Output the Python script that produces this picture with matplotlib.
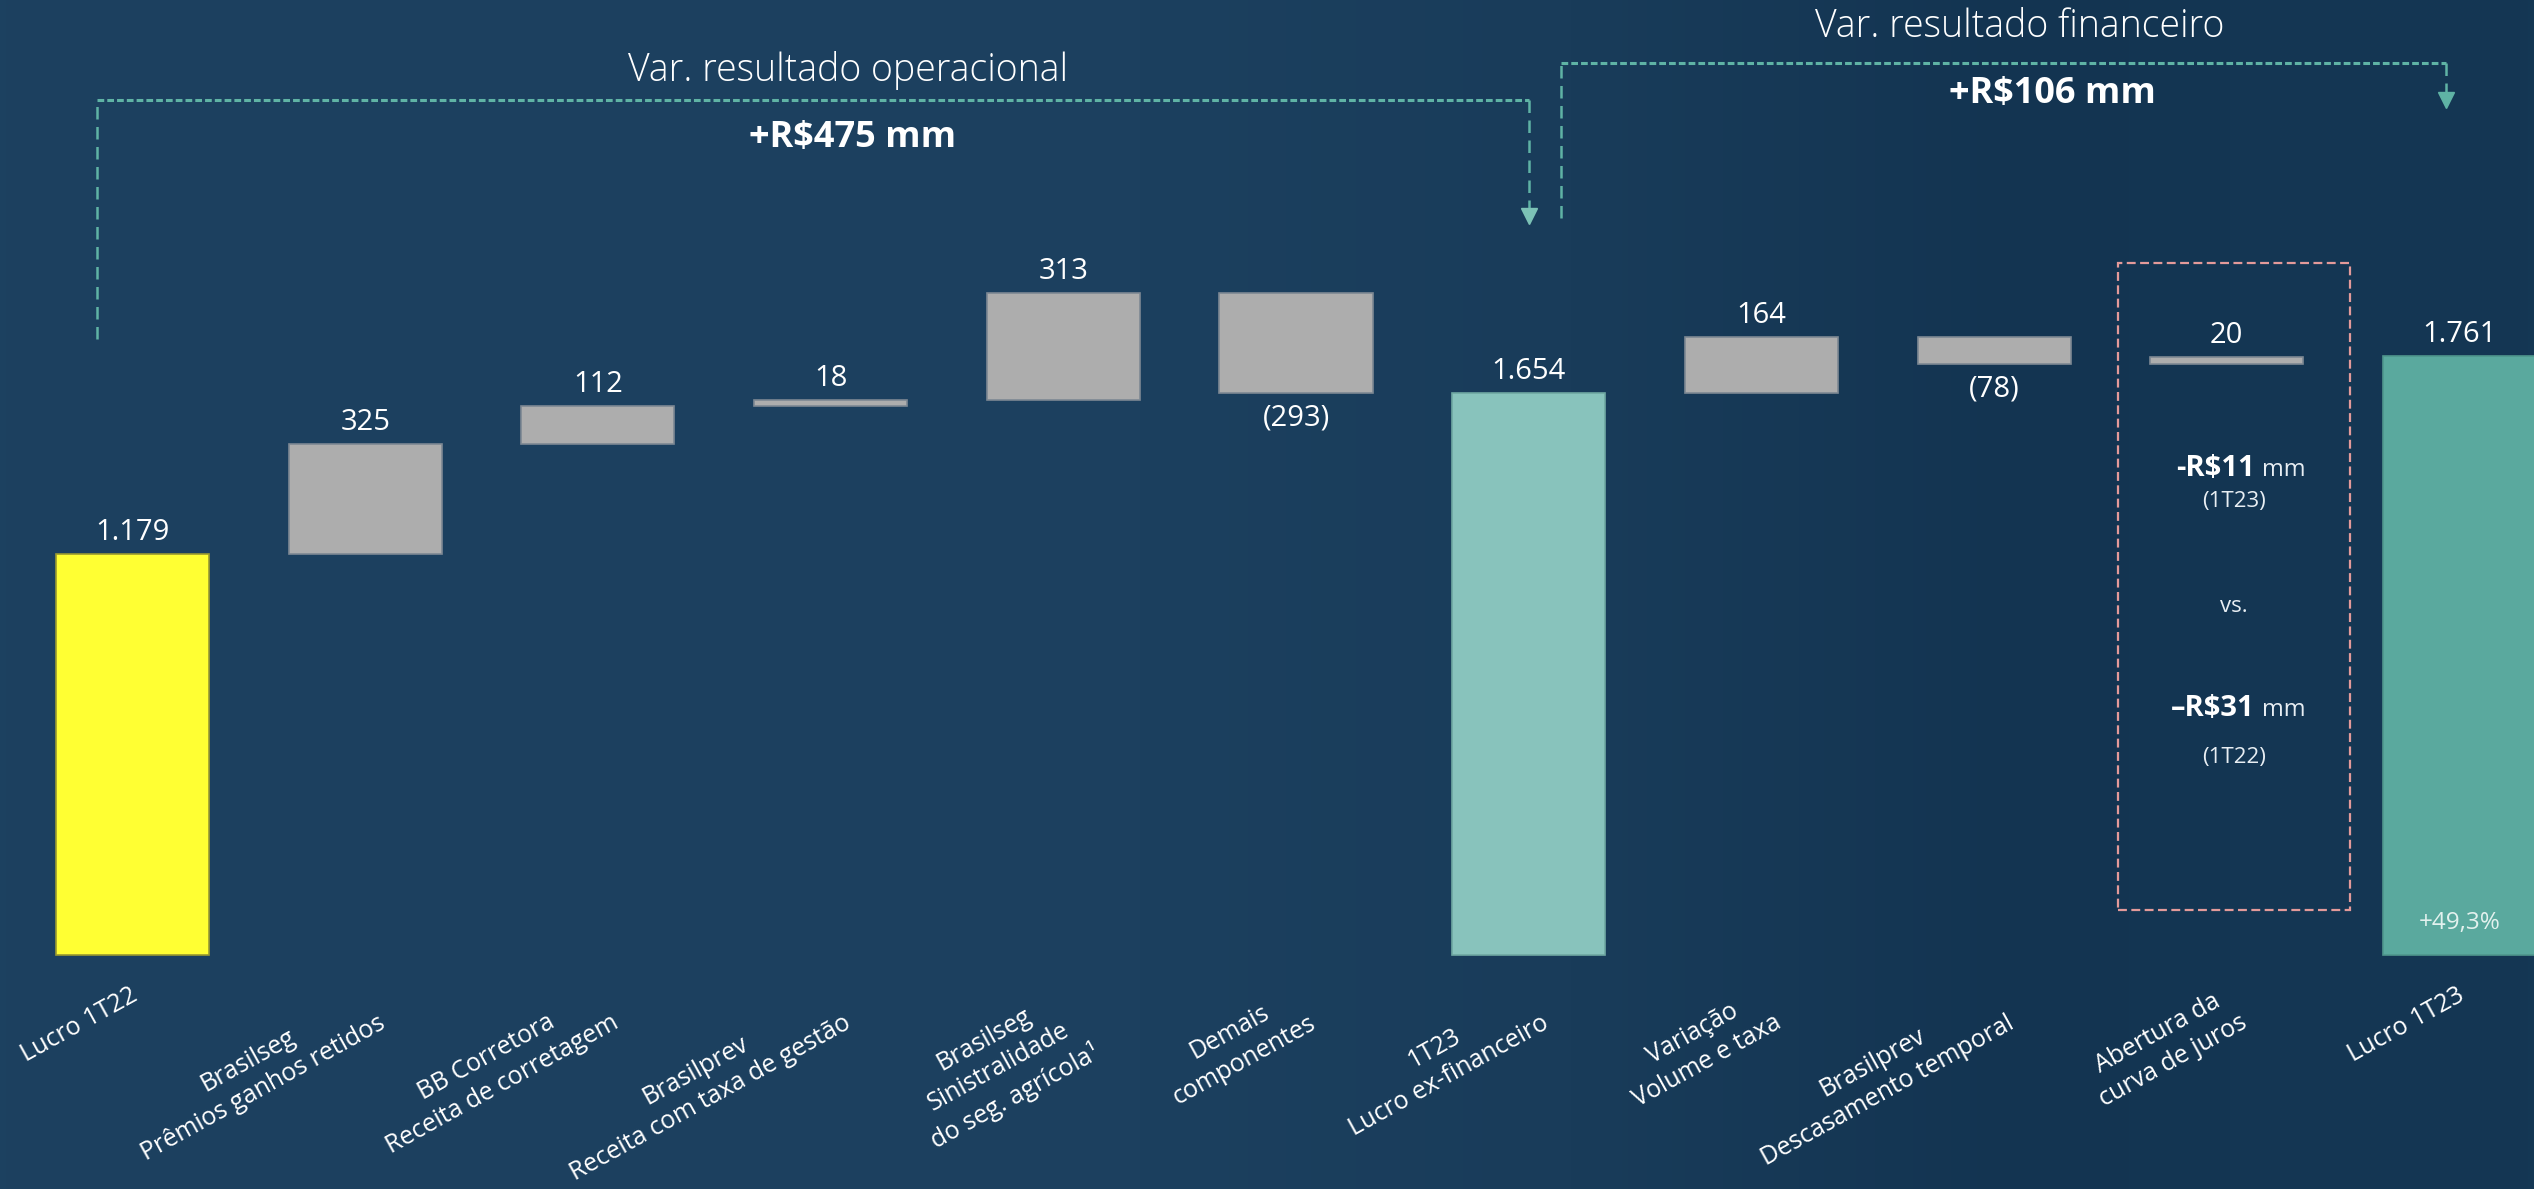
import numpy as np
import matplotlib
matplotlib.use("Agg")
import matplotlib.pyplot as plt
from matplotlib.patches import Rectangle

plt.rcParams['font.family'] = ['Open Sans', 'DejaVu Sans']

# ---------------- data ----------------
categories = ["Lucro 1T22",
              "Brasilseg\nPrêmios ganhos retidos",
              "BB Corretora\nReceita de corretagem",
              "Brasilprev\nReceita com taxa de gestão",
              "Brasilseg\nSinistralidade\ndo seg. agrícola¹",
              "Demais\ncomponentes",
              "1T23\nLucro ex-financeiro",
              "Variação\nVolume e taxa",
              "Brasilprev\nDescasamento temporal",
              "Abertura da\ncurva de juros",
              "Lucro 1T23"]
values = [1179, 325, 112, 18, 313, -293, 1654, 164, -78, 20, 1761]
is_total = [True, False, False, False, False, False, True, False, False, False, True]
bar_colors = ["#ffff33", "#adadad", "#adadad", "#adadad", "#adadad", "#adadad",
              "#88c3bc", "#adadad", "#adadad", "#adadad", "#5aa99e"]
edge_colors = ["#9a9a30", "#7d8893", "#7d8893", "#7d8893", "#7d8893", "#7d8893",
               "#6fa8a2", "#7d8893", "#7d8893", "#7d8893", "#4f968c"]

op_title = "Var. resultado operacional"
op_value = "+R$475 mm"
fin_title = "Var. resultado financeiro"
fin_value = "+R$106 mm"
box_lines = [("-R$11", "mm"), ("(1T23)", None), ("vs.", None), ("–R$31", "mm"), ("(1T22)", None)]
growth_label = "+49,3%"

W, H = 2534, 1189
fig = plt.figure(figsize=(W / 100, H / 100), dpi=100)

# background gradient
bg = fig.add_axes([0, 0, 1, 1], zorder=0)
xs = np.linspace(0, 1, 400)
stops_x = [0.0, 0.45, 0.62, 0.80, 0.88, 1.0]
stops_c = np.array([[28, 65, 96], [28, 64, 95], [25, 60, 90],
                    [19, 52, 81], [20, 54, 83], [20, 55, 84]]) / 255.0
grad = np.stack([np.interp(xs, stops_x, stops_c[:, k]) for k in range(3)], axis=-1)
grad = np.tile(grad[None, :, :], (10, 1, 1))
bg.imshow(grad, aspect='auto', extent=[0, 1, 0, 1])
bg.set_axis_off()

ax = fig.add_axes([0, 0, 1, 1], zorder=1)
ax.patch.set_alpha(0)
ax.set_axis_off()

# scales: bar 0 center at 132.5px, step 232.7px; baseline 955px from top, 0.3399 px/unit
step = 232.7
x0 = 132.5
ppu = 0.3399
base = 955
ax.set_xlim(-x0 / step, (W - x0) / step)
ax.set_ylim(-(H - base) / ppu, base / ppu)


def ypx(ytop):
    return (base - ytop) / ppu


def fmt_total(v):
    return f"{v:,}".replace(",", ".")


# ---------------- bars ----------------
width = 0.658
running = 0
for i, (v, tot) in enumerate(zip(values, is_total)):
    if tot:
        bottom, height = 0, v
        running = v
    else:
        bottom = running if v >= 0 else running + v
        height = abs(v)
        running += v
    ax.bar(i, height, bottom=bottom, width=width, color=bar_colors[i],
           edgecolor=edge_colors[i], linewidth=1.2, zorder=3)
    top = bottom + height
    if tot:
        ax.annotate(fmt_total(v), (i, top), xytext=(0, 5), textcoords='offset points',
                    ha='center', va='bottom', color='white', fontsize=21, zorder=5)
    elif v >= 0:
        ax.annotate(f"{v}", (i, top), xytext=(0, 5), textcoords='offset points',
                    ha='center', va='bottom', color='white', fontsize=21, zorder=5)
    else:
        ax.annotate(f"({-v})", (i, bottom), xytext=(0, -8), textcoords='offset points',
                    ha='center', va='top', color='white', fontsize=21, zorder=5)
    # category label
    ax.annotate(categories[i], (i, 0), xytext=(-2, -20), textcoords='offset points',
                rotation=29, rotation_mode='anchor', ha='right', va='top',
                multialignment='center', color='white', fontsize=18,
                linespacing=1.35, zorder=5)

# growth label in last bar
ax.text(10, ypx(923), growth_label, ha='center', va='center', color='#e3f1ee',
        fontsize=17.5, zorder=6)

# ---------------- brackets ----------------
dash_col = "#5fb3a5"
# operational bracket: from bar 0 to bar 6
oxl, oxr = 0 - 0.153, 6
oy = ypx(100)
ax.plot([oxl, oxl], [ypx(339), oy], color=dash_col, lw=1.8, ls=(0, (5, 3)), zorder=4)
ax.plot([oxl, oxr], [oy, oy], color=dash_col, lw=2.2, ls=(0, (2.2, 1)), zorder=4)
ax.plot([oxr, oxr], [oy, ypx(212)], color=dash_col, lw=1.8, ls=(0, (5, 3)), zorder=4)
ax.plot([oxr], [ypx(216)], marker='v', markersize=11, color="#7cc2b6", zorder=4)
# financial bracket: from bar 6 to bar 10
fxl, fxr = 6 + 0.14, 10 - 0.06
fy = ypx(63)
ax.plot([fxl, fxl], [ypx(218), fy], color=dash_col, lw=1.8, ls=(0, (5, 3)), zorder=4)
ax.plot([fxl, fxr], [fy, fy], color=dash_col, lw=2.2, ls=(0, (2.2, 1)), zorder=4)
ax.plot([fxr, fxr], [fy, ypx(96)], color=dash_col, lw=1.8, ls=(0, (5, 3)), zorder=4)
ax.plot([fxr], [ypx(100)], marker='v', markersize=11, color=dash_col, zorder=4)

ax.text((oxl + oxr) / 2 + 0.15, ypx(70), op_title, ha='center', va='center',
        color='white', fontsize=27, fontweight='light', zorder=5)
ax.text((oxl + oxr) / 2 + 0.17, ypx(138), op_value, ha='center', va='center',
        color='white', fontsize=26, fontweight='bold', zorder=5)
ax.text((fxl + fxr) / 2 + 0.07, ypx(27), fin_title, ha='center', va='center',
        color='white', fontsize=27, fontweight='light', zorder=5)
ax.text((fxl + fxr) / 2 + 0.21, ypx(94), fin_value, ha='center', va='center',
        color='white', fontsize=26, fontweight='bold', zorder=5)

# ---------------- pink dashed box ----------------
bx0, bx1 = 9 - 0.468, 9 + 0.529
by0, by1 = ypx(910), ypx(263)
ax.add_patch(Rectangle((bx0, by0), bx1 - bx0, by1 - by0, fill=False,
                       edgecolor="#e39a9a", lw=1.6, ls=(0, (4, 2)), zorder=4))
bc = (bx0 + bx1) / 2
split = 9.12
line_y = [476, 502, 606, 716, 758]
for (a, b), yy in zip(box_lines, line_y):
    if b is None:
        ax.text(bc, ypx(yy), a, ha='center', va='center', color='#e8eef3',
                fontsize=16, zorder=5)
    else:
        ax.text(split, ypx(yy), a, ha='right', va='baseline', color='white',
                fontsize=21, fontweight='bold', zorder=5)
        ax.text(split + 0.03, ypx(yy), b, ha='left', va='baseline', color='#e8eef3',
                fontsize=17, zorder=5)

fig.savefig("out.png", dpi=100)
